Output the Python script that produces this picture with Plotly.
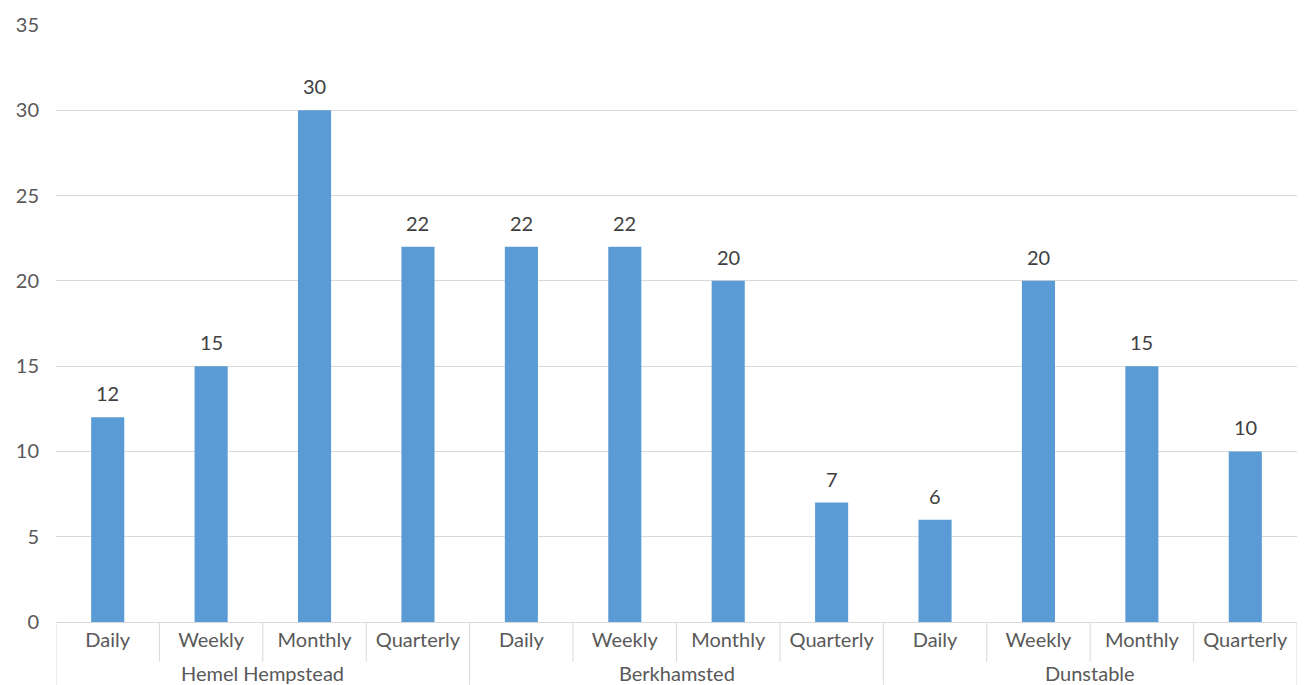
import plotly.graph_objects as go

# Survey counts by town and frequency
towns = ["Hemel Hempstead", "Berkhamsted", "Dunstable"]
frequencies = ["Daily", "Weekly", "Monthly", "Quarterly"]
hemel_hempstead = [12, 15, 30, 22]
berkhamsted = [22, 22, 20, 7]
dunstable = [6, 20, 15, 10]

series = [hemel_hempstead, berkhamsted, dunstable]
inner = [f for _ in towns for f in frequencies]
values = [v for s in series for v in s]
slots = list(range(len(values)))
n_freq = len(frequencies)

FONT = "Lato"
GRID = "#d9d9d9"
W, H = 1311, 685
M = dict(l=56, r=14, t=23, b=63)
plot_h = H - M["t"] - M["b"]

fig = go.Figure(
    go.Bar(
        x=slots,
        y=values,
        marker=dict(color="#5b9bd5", line=dict(width=0)),
        width=0.32,
        hoverinfo="skip",
    )
)

# Value labels above each bar
for xi, v in zip(slots, values):
    fig.add_annotation(
        x=xi, y=v, text=str(v), showarrow=False,
        yanchor="bottom", yshift=10,
        font=dict(family=FONT, size=20, color="#404040"),
    )

# Category separators under the axis; group boundaries run to the bottom edge
for k in range(len(values) + 1):
    is_group_edge = k % n_freq == 0
    depth = (M["b"] if is_group_edge else 40) / plot_h
    fig.add_shape(
        type="line", xref="x", yref="paper",
        x0=k - 0.5, x1=k - 0.5, y0=0, y1=-depth,
        line=dict(color=GRID, width=1),
    )

# Town names centred under their groups
for g, town in enumerate(towns):
    fig.add_annotation(
        x=g * n_freq + (n_freq - 1) / 2, xref="x",
        y=0, yref="paper", yanchor="middle", yshift=-51,
        text=town, showarrow=False,
        font=dict(family=FONT, size=20, color="#595959"),
    )

fig.update_layout(
    width=W, height=H,
    margin=M,
    plot_bgcolor="white", paper_bgcolor="white",
    showlegend=False,
    font=dict(family=FONT, size=20, color="#595959"),
)
fig.update_yaxes(
    range=[0, 35], dtick=5, showgrid=True, gridcolor=GRID, gridwidth=1,
    zeroline=False, showline=False, ticks="", ticklabelstandoff=16,
    tickfont=dict(family=FONT, size=20, color="#595959"),
)
fig.update_xaxes(
    range=[-0.5, len(values) - 0.5],
    tickmode="array", tickvals=slots, ticktext=inner,
    showgrid=False, zeroline=False,
    showline=True, linecolor=GRID, linewidth=1,
    ticks="", ticklabelstandoff=0,
    tickfont=dict(family=FONT, size=20, color="#595959"),
)

fig.write_html("out.html")
